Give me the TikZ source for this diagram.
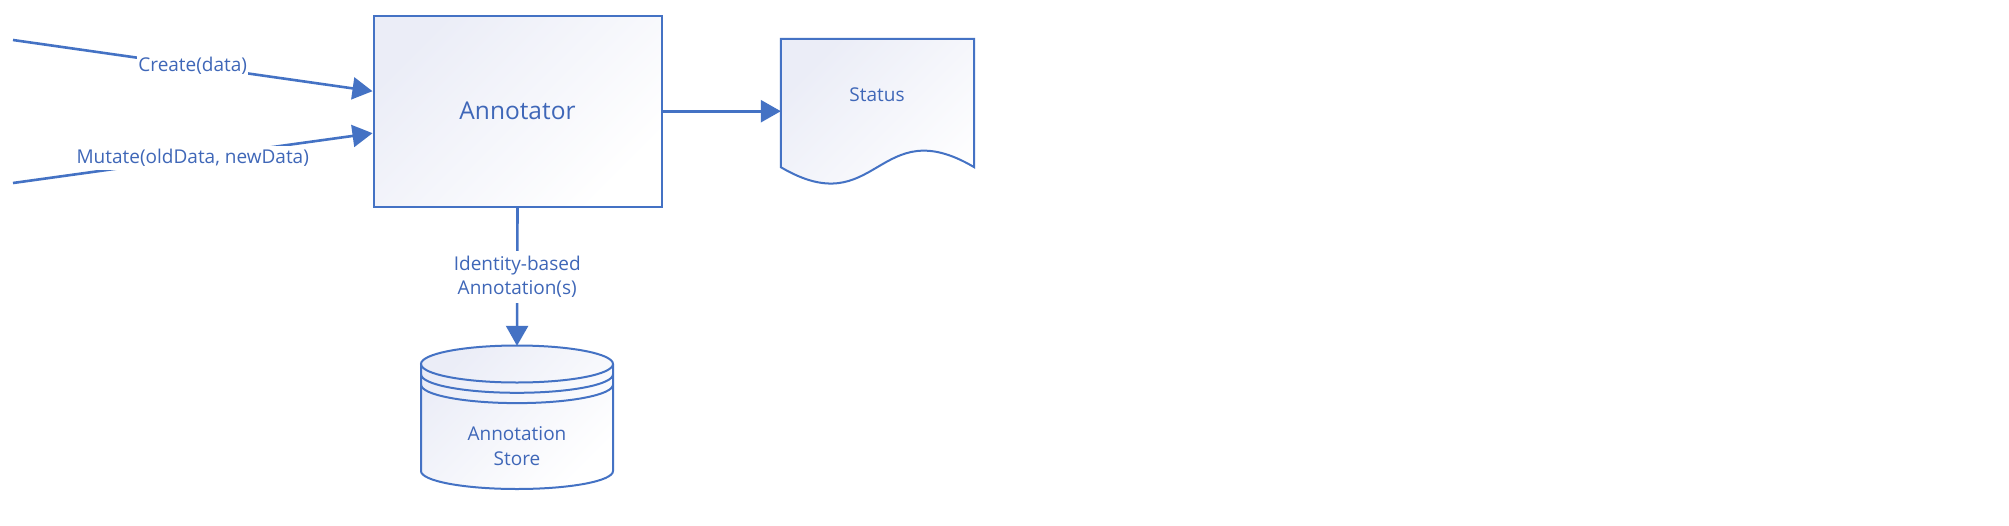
\documentclass[tikz,border=0pt]{standalone}
\usepackage{fontspec}
\setmainfont{Open Sans}
\usetikzlibrary{arrows.meta,calc}
\definecolor{ln}{HTML}{4472C4}
\definecolor{tx}{HTML}{3F67B8}
\definecolor{gr}{HTML}{EBEDF7}
\newcommand\frontarc[1]{(421,#1) .. controls (421,#1+10.22) and (463.98,#1+18.5) .. (517,#1+18.5) .. controls (570.02,#1+18.5) and (613,#1+10.22) .. (613,#1)}
\begin{document}
\begin{tikzpicture}[x=1pt,y=-1pt,
  lbl/.style={font=\fontsize{19}{24.5}\selectfont, text=tx, align=center},
  gap/.style={fill=white, inner xsep=1pt, inner ysep=3pt},
  conn/.style={draw=ln, line width=2.6pt, -{Triangle[length=20pt,width=22pt]}},
  grad/.style={top color=gr, bottom color=white, shading angle=45},
  outl/.style={draw=ln, line width=2pt}]
\fill[white] (0,0) rectangle (2009,525);
\useasboundingbox (0,0) rectangle (2009,525);

% Annotator
\node[outl, grad, minimum width=288pt, minimum height=191pt, inner sep=0,
  font=\fontsize{24.5}{30}\selectfont, text=tx] (ann) at (517.5,111.2) {Annotator};

% inputs
\coordinate (c0) at (13,40);
\coordinate (m0) at (13,183);
\draw[conn] (c0) -- node[lbl, gap] (lc) {Create(data)} ($(ann.west)+(0,-20)$);
\draw[conn] (m0) -- node[lbl, gap] (lm) {Mutate(oldData, newData)} ($(ann.west)+(0,22)$);

% Status document
\node[minimum width=193pt, minimum height=128pt, inner sep=0] (st) at (877.5,103) {};
\path[grad, outl] (st.north west) -- (st.north east) -- (st.south east)
  .. controls (877.5,110) and (877.5,224) .. (st.south west) -- cycle;
\node[lbl] (stt) at (877,95) {Status};
\draw[conn] (ann.east) -- (ann.east -| st.west);

% Annotation store cylinder
\node[minimum width=192pt, minimum height=143pt, inner sep=0] (cyl) at (517,417.5) {};
\path[grad] (421,364) -- (421,471) .. controls (421,481) and (463.98,489) .. (517,489)
  .. controls (570.02,489) and (613,481) .. (613,471) -- (613,364)
  .. controls (613,353.78) and (570.02,345.5) .. (517,345.5)
  .. controls (463.98,345.5) and (421,353.78) .. (421,364) -- cycle;
\draw[outl] (421,364) -- (421,471) .. controls (421,481) and (463.98,489) .. (517,489)
  .. controls (570.02,489) and (613,481) .. (613,471) -- (613,364);
\draw[outl] (517,364) ellipse [x radius=96pt, y radius=18.5pt];
\draw[outl] \frontarc{374.3};
\draw[outl] \frontarc{384.6};
\node[lbl] (cylt) at (517,446) {Annotation\\Store};

\draw[conn] (ann.south) -- node[lbl, fill=white, inner xsep=2pt, inner ysep=5pt] (la) {Identity-based\\Annotation(s)} (cyl.north);
\end{tikzpicture}
\end{document}
